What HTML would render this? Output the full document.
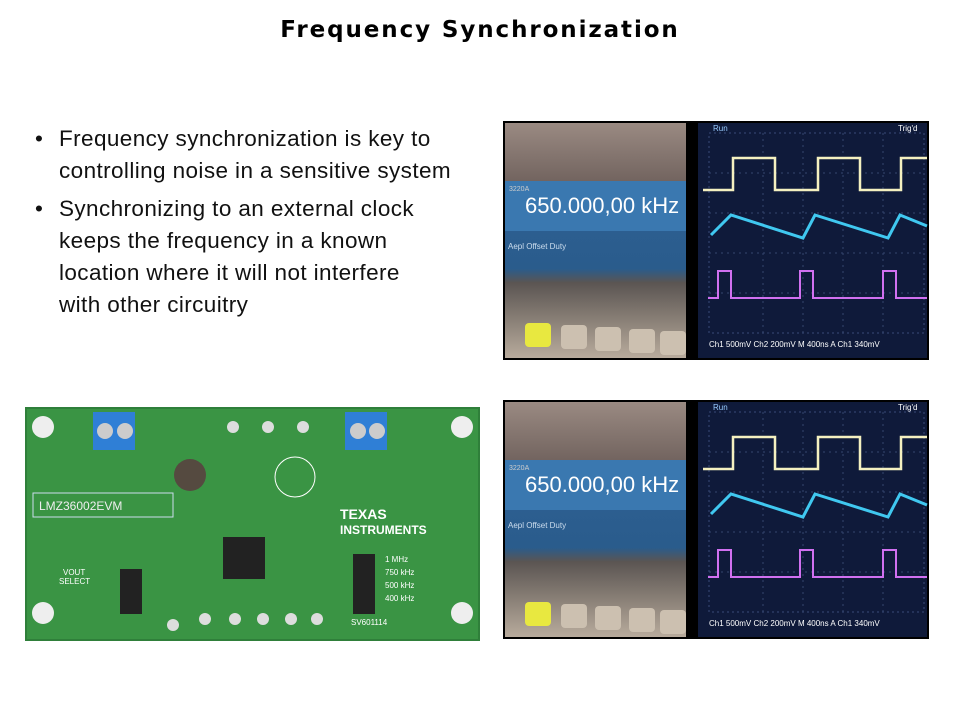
<!DOCTYPE html>
<html><head><style>
body{margin:0;width:960px;height:720px;background:#fff;position:relative;font-family:"Liberation Sans",sans-serif;overflow:hidden}
h1{position:absolute;top:17px;left:0;width:960px;text-align:center;font-family:"DejaVu Sans",sans-serif;font-size:23px;letter-spacing:1.9px;margin:0;font-weight:bold;color:#000}
ul{position:absolute;left:35px;top:123px;margin:0;padding:0;list-style:none;font-size:22.5px;letter-spacing:0.4px;line-height:32px;color:#111;width:480px;white-space:nowrap}
li{position:relative;padding-left:24px;margin-bottom:6px}
li:before{content:"•";position:absolute;left:0}
svg{position:absolute}
</style></head><body>
<h1>Frequency Synchronization</h1>
<ul>
<li>Frequency synchronization is key to<br>controlling noise in a sensitive system</li>
<li>Synchronizing to an external clock<br>keeps the frequency in a known<br>location where it will not interfere<br>with other circuitry</li>
</ul>
<svg width="0" height="0"><defs>
<linearGradient id="gl" x1="0" y1="0" x2="0" y2="1"><stop offset="0" stop-color="#9a8a82"/><stop offset="0.3" stop-color="#6a5c58"/><stop offset="0.35" stop-color="#2d5f92"/><stop offset="0.62" stop-color="#2a5c8c"/><stop offset="0.68" stop-color="#5b5552"/><stop offset="1" stop-color="#b8ab9c"/></linearGradient>
<g id="scope">
<rect width="426" height="239" fill="#000"/>
<rect x="2" y="2" width="181" height="235" fill="url(#gl)"/>
<rect x="2" y="60" width="181" height="50" fill="#3a78b0"/>
<text x="22" y="92" font-size="22" fill="#fff">650.000,00 kHz</text>
<text x="6" y="70" font-size="7" fill="#ccc">3220A</text>
<text x="5" y="128" font-size="8" fill="#cde">Aepl  Offset  Duty</text>
<rect x="22" y="202" width="26" height="24" rx="4" fill="#e8e840"/>
<rect x="58" y="204" width="26" height="24" rx="4" fill="#ccc0b0"/>
<rect x="92" y="206" width="26" height="24" rx="4" fill="#ccc0b0"/>
<rect x="126" y="208" width="26" height="24" rx="4" fill="#ccc0b0"/>
<rect x="157" y="210" width="26" height="24" rx="4" fill="#ccc0b0"/>
<rect x="195" y="2" width="229" height="235" fill="#0f1a3a"/>
<rect x="206" y="12" width="215" height="200" fill="none" stroke="#3a4a78" stroke-width="1" stroke-dasharray="2 3"/>
<path d="M260 12V212M300 12V212M340 12V212M380 12V212M206 52H421M206 92H421M206 132H421M206 172H421" stroke="#34456e" stroke-dasharray="2 4"/>
<text x="210" y="10" font-size="8" fill="#9cf">Run</text><text x="395" y="10" font-size="8" fill="#fff">Trig'd</text>
<path d="M200 69H230V37H272V69H315V37H357V69H398V37H424" fill="none" stroke="#f4f0c0" stroke-width="2.5"/>
<path d="M208 114L228 94L300 117L312 94L385 117L397 94L424 105" fill="none" stroke="#40c8f0" stroke-width="3"/>
<path d="M205 177H215V150H228V177H297V150H310V177H380V150H393V177H424" fill="none" stroke="#d070f0" stroke-width="2"/>
<text x="206" y="226" font-size="8" fill="#fff">Ch1  500mV   Ch2  200mV   M 400ns  A Ch1  340mV</text>
</g></defs></svg>
<svg style="left:503px;top:121px" width="426" height="239"><use href="#scope"/></svg>
<svg style="left:503px;top:400px" width="426" height="239"><use href="#scope"/></svg>
<svg style="left:25px;top:407px" width="455" height="234">
<rect width="455" height="234" fill="#2f7f3a"/>
<rect x="2" y="2" width="451" height="230" fill="#3a9444"/>
<circle cx="18" cy="20" r="11" fill="#eee"/><circle cx="437" cy="20" r="11" fill="#eee"/><circle cx="18" cy="206" r="11" fill="#eee"/><circle cx="437" cy="206" r="11" fill="#eee"/>
<rect x="68" y="5" width="42" height="38" fill="#2f7fd6"/><circle cx="80" cy="24" r="8" fill="#ccc"/><circle cx="100" cy="24" r="8" fill="#ccc"/>
<rect x="320" y="5" width="42" height="38" fill="#2f7fd6"/><circle cx="333" cy="24" r="8" fill="#ccc"/><circle cx="352" cy="24" r="8" fill="#ccc"/>
<circle cx="165" cy="68" r="16" fill="#554a40"/>
<circle cx="270" cy="70" r="20" fill="none" stroke="#fff"/>
<rect x="8" y="86" width="140" height="24" fill="none" stroke="#cde" />
<text x="14" y="103" font-size="12" fill="#eee">LMZ36002EVM</text>
<text x="315" y="112" font-size="14" font-weight="bold" fill="#fff">TEXAS</text>
<text x="315" y="127" font-size="12" font-weight="bold" fill="#fff">INSTRUMENTS</text>
<rect x="198" y="130" width="42" height="42" fill="#222"/>
<rect x="95" y="162" width="22" height="45" fill="#222"/>
<rect x="328" y="147" width="22" height="60" fill="#222"/>
<text x="38" y="168" font-size="8" fill="#fff">VOUT</text><text x="34" y="177" font-size="8" fill="#fff">SELECT</text>
<text x="360" y="155" font-size="8" fill="#fff">1 MHz</text><text x="360" y="168" font-size="8" fill="#fff">750 kHz</text><text x="360" y="181" font-size="8" fill="#fff">500 kHz</text><text x="360" y="194" font-size="8" fill="#fff">400 kHz</text>
<text x="326" y="218" font-size="8" fill="#fff">SV601114</text>
<circle cx="148" cy="218" r="6" fill="#ddd"/><circle cx="180" cy="212" r="6" fill="#ddd"/><circle cx="210" cy="212" r="6" fill="#ddd"/><circle cx="238" cy="212" r="6" fill="#ddd"/><circle cx="266" cy="212" r="6" fill="#ddd"/><circle cx="292" cy="212" r="6" fill="#ddd"/>
<circle cx="208" cy="20" r="6" fill="#ddd"/><circle cx="243" cy="20" r="6" fill="#ddd"/><circle cx="278" cy="20" r="6" fill="#ddd"/>
</svg>
</body></html>
